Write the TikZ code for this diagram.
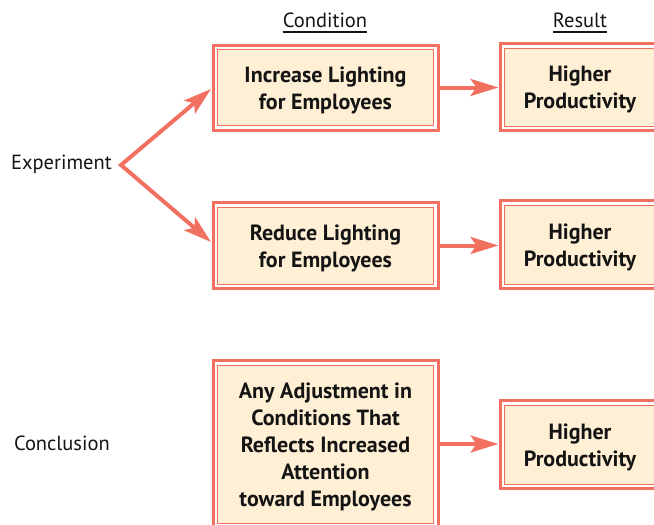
\documentclass[tikz,border=0pt]{standalone}
\usepackage{fontspec}
\setmainfont{PT Sans}
\usetikzlibrary{arrows.meta}
\definecolor{sal}{RGB}{242,112,96}
\definecolor{cream}{RGB}{255,239,212}
\definecolor{ink}{RGB}{20,20,20}
\begin{document}
\begin{tikzpicture}[x=1pt,y=-1pt,
  cbox/.style={draw=sal, line width=1pt, fill=cream, inner sep=0pt},
  ctext/.style={align=center, text=ink, font=\fontsize{22}{27}\selectfont\bfseries, inner sep=0pt},
  outerline/.style={draw=sal, line width=3pt},
  arr/.style={draw=sal, line width=4pt, line join=miter,
    -{Stealth[length=28pt,width=17pt,inset=6pt]}},
  lbl/.style={text=ink, font=\fontsize{20.5}{24}\selectfont, inner sep=0pt},
  hdr/.style={text=ink, font=\fontsize{20.5}{24}\selectfont, inner sep=0pt}
]
\useasboundingbox (0,0) rectangle (654,525);
\clip (0,0) rectangle (654,525);
% headers
\node[hdr, anchor=base] (hc) at (325,27) {Condition};
\node[hdr, anchor=base] (hr) at (580,27) {Result};
\draw[ink, line width=1.6pt] ([yshift=-5pt]hc.base west) -- ([yshift=-5pt]hc.base east);
\draw[ink, line width=1.6pt] ([yshift=-5pt]hr.base west) -- ([yshift=-5pt]hr.base east);
% condition boxes
\node[cbox, minimum width=216pt, minimum height=76pt] (c1) at (325.5,87.5) {};
\node[cbox, minimum width=216pt, minimum height=77pt] (c2) at (325.5,245.5) {};
\node[cbox, minimum width=216pt, minimum height=158pt] (c3) at (325.5,444) {};
% result boxes
\node[cbox, minimum width=151pt, minimum height=78pt] (r1) at (580,87) {};
\node[cbox, minimum width=151pt, minimum height=79pt] (r2) at (580,244.5) {};
\node[cbox, minimum width=151pt, minimum height=79pt] (r3) at (580,444.5) {};
\foreach \n in {c1,c2,c3,r1,r2,r3}
  \draw[outerline] ([shift={(-4pt,4pt)}]\n.north west) rectangle ([shift={(4pt,-4pt)}]\n.south east);
% box texts
\node[ctext] (c1t) at ([yshift=-2.5pt]c1.center) {Increase Lighting\\for Employees};
\node[ctext] (c2t) at ([yshift=-2.5pt]c2.center) {Reduce Lighting\\for Employees};
\node[ctext] (c3t) at ([yshift=-3pt]c3.center) {Any Adjustment in\\Conditions That\\Reflects Increased\\Attention\\toward Employees};
\node[ctext] (r1t) at ([yshift=-2.5pt]r1.center) {Higher\\Productivity};
\node[ctext] (r2t) at ([yshift=-2.5pt]r2.center) {Higher\\Productivity};
\node[ctext] (r3t) at ([yshift=-2.5pt]r3.center) {Higher\\Productivity};
% labels
\node[lbl, anchor=east] (exp) at (112,164) {Experiment};
\node[lbl, anchor=east] (con) at (110,443) {Conclusion};
\coordinate (ex) at (121,165);
% arrows
\draw[arr] ([xshift=5.5pt]c1.east) -- ([xshift=-5.5pt]r1.west |- c1.east);
\draw[arr] ([xshift=5.5pt]c2.east) -- ([xshift=-5.5pt]r2.west |- c2.east);
\draw[arr] ([xshift=5.5pt]c3.east) -- ([xshift=-5.5pt]r3.west |- c3.east);
\draw[arr, {Stealth[length=28pt,width=17pt,inset=6pt]}-{Stealth[length=28pt,width=17pt,inset=6pt]}]
  ([shift={(-6pt,-1.5pt)}]c1.west) -- (ex) -- ([shift={(-6pt,3.5pt)}]c2.west);
\end{tikzpicture}
\end{document}
